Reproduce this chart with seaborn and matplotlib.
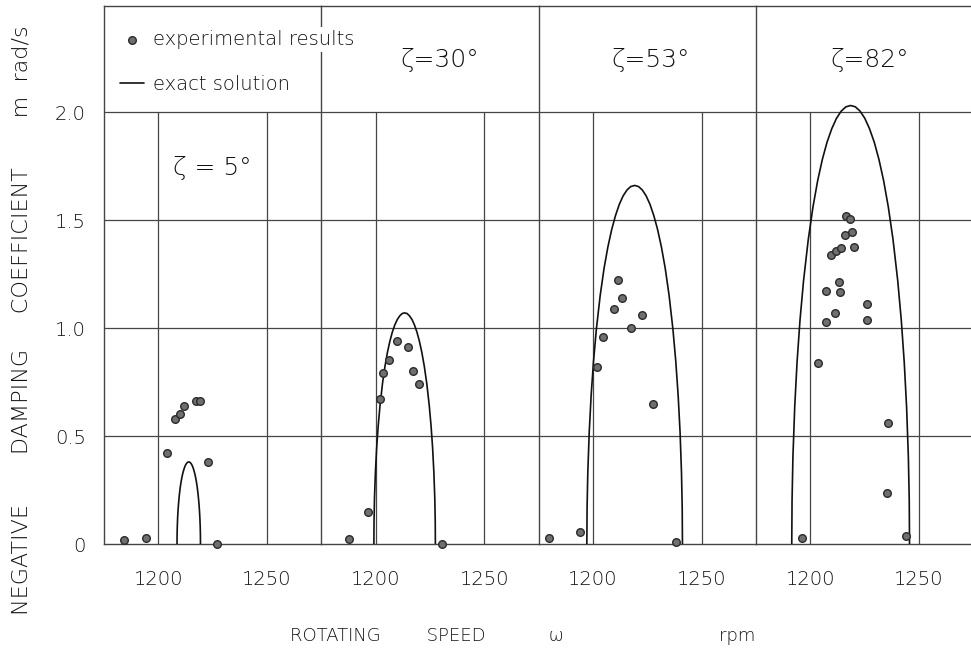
import numpy as np
import pandas as pd
import matplotlib
matplotlib.use("Agg")
import matplotlib.pyplot as plt
import seaborn as sns

# ---------------- data ----------------
zeta_labels = ["ζ = 5°", "ζ=30°", "ζ=53°", "ζ=82°"]
x_ticks = [1200, 1250]
x_ticklabels = ["1200", "1250"]
y_ticks = [0, 0.5, 1.0, 1.5, 2.0]
y_ticklabels = ["0", "0.5", "1.0", "1.5", "2.0"]

# experimental results: rotating speed (rpm), negative damping coefficient (rad/s)
exp5_x = [1184.1, 1194.5, 1204.0, 1207.8, 1210.2, 1211.8, 1217.3, 1219.1, 1222.9, 1226.9]
exp5_y = [0.02, 0.03, 0.42, 0.58, 0.60, 0.64, 0.66, 0.66, 0.38, 0.00]
exp30_x = [1187.9, 1196.5, 1201.8, 1203.2, 1206.0, 1210.0, 1214.7, 1217.1, 1220.0, 1230.7]
exp30_y = [0.025, 0.15, 0.67, 0.79, 0.85, 0.94, 0.91, 0.80, 0.74, 0.0]
exp53_x = [1180.0, 1194.2, 1201.7, 1204.6, 1209.8, 1211.6, 1213.6, 1217.4, 1222.5, 1227.7, 1238.1]
exp53_y = [0.03, 0.056, 0.82, 0.96, 1.09, 1.22, 1.14, 1.00, 1.06, 0.65, 0.01]
exp82_x = [1196.1, 1203.4, 1207.3, 1211.3, 1207.4, 1213.7, 1213.4, 1209.7, 1212.0, 1214.2,
           1220.2, 1215.9, 1219.3, 1216.5, 1218.2, 1226.1, 1226.1, 1235.8, 1235.2, 1244.0]
exp82_y = [0.03, 0.84, 1.03, 1.07, 1.17, 1.165, 1.215, 1.34, 1.355, 1.37,
           1.375, 1.43, 1.445, 1.52, 1.505, 1.11, 1.035, 0.56, 0.235, 0.035]

# exact solution curves
sol5_x = [1208.6, 1208.63, 1208.71, 1208.87, 1209.09, 1209.36, 1209.68, 1210.11, 1210.54,
          1210.98, 1211.41, 1211.84, 1212.27, 1212.7, 1213.14, 1213.57, 1214.0,
          1214.43, 1214.86, 1215.3, 1215.73, 1216.16, 1216.59, 1217.02, 1217.46,
          1217.89, 1218.32, 1218.64, 1218.91, 1219.13, 1219.29, 1219.37, 1219.4]
sol5_y = [0, 0.038, 0.076, 0.119, 0.158, 0.194, 0.228, 0.264, 0.292,
          0.315, 0.333, 0.348, 0.360, 0.369, 0.375, 0.379, 0.380,
          0.379, 0.375, 0.369, 0.360, 0.348, 0.333, 0.315, 0.292,
          0.264, 0.228, 0.194, 0.158, 0.119, 0.076, 0.038, 0]
sol30_x = [1199.2, 1199.27, 1199.48, 1199.91, 1200.47, 1201.18, 1202.03, 1203.16, 1204.29,
           1205.43, 1206.56, 1207.69, 1208.82, 1209.95, 1211.09, 1212.22, 1213.35,
           1214.48, 1215.61, 1216.75, 1217.88, 1219.01, 1220.14, 1221.27, 1222.41,
           1223.54, 1224.67, 1225.52, 1226.23, 1226.79, 1227.22, 1227.43, 1227.5]
sol30_y = [0, 0.107, 0.213, 0.334, 0.444, 0.546, 0.642, 0.743, 0.822,
           0.887, 0.939, 0.981, 1.014, 1.039, 1.056, 1.067, 1.070,
           1.067, 1.056, 1.039, 1.014, 0.981, 0.939, 0.887, 0.822,
           0.743, 0.642, 0.546, 0.444, 0.334, 0.213, 0.107, 0]
sol53_x = [1197.2, 1197.31, 1197.64, 1198.3, 1199.18, 1200.28, 1201.6, 1203.36, 1205.12,
           1206.88, 1208.64, 1210.4, 1212.16, 1213.92, 1215.68, 1217.44, 1219.2,
           1220.96, 1222.72, 1224.48, 1226.24, 1228.0, 1229.76, 1231.52, 1233.28,
           1235.04, 1236.8, 1238.12, 1239.22, 1240.1, 1240.76, 1241.09, 1241.2]
sol53_y = [0, 0.166, 0.330, 0.518, 0.688, 0.847, 0.996, 1.152, 1.276,
           1.375, 1.456, 1.521, 1.573, 1.612, 1.639, 1.655, 1.660,
           1.655, 1.639, 1.612, 1.573, 1.521, 1.456, 1.375, 1.276,
           1.152, 0.996, 0.847, 0.688, 0.518, 0.330, 0.166, 0]
sol82_x = [1191.5, 1191.64, 1192.04, 1192.86, 1193.94, 1195.29, 1196.92, 1199.09, 1201.26,
           1203.42, 1205.59, 1207.76, 1209.93, 1212.1, 1214.26, 1216.43, 1218.6,
           1220.77, 1222.94, 1225.1, 1227.27, 1229.44, 1231.61, 1233.78, 1235.94,
           1238.11, 1240.28, 1241.91, 1243.26, 1244.35, 1245.16, 1245.57, 1245.7]
sol82_y = [0, 0.203, 0.404, 0.634, 0.842, 1.036, 1.218, 1.409, 1.560,
           1.682, 1.781, 1.861, 1.923, 1.971, 2.004, 2.024, 2.030,
           2.024, 2.004, 1.971, 1.923, 1.861, 1.781, 1.682, 1.560,
           1.409, 1.218, 1.036, 0.842, 0.634, 0.404, 0.203, 0]

exp_sets = [(exp5_x, exp5_y), (exp30_x, exp30_y), (exp53_x, exp53_y), (exp82_x, exp82_y)]
sol_sets = [(sol5_x, sol5_y), (sol30_x, sol30_y), (sol53_x, sol53_y), (sol82_x, sol82_y)]

exp_df = pd.concat([pd.DataFrame({"panel": k, "speed": xs, "m": ys})
                    for k, (xs, ys) in enumerate(exp_sets)], ignore_index=True)
sol_df = pd.concat([pd.DataFrame({"panel": k, "speed": xs, "m": ys})
                    for k, (xs, ys) in enumerate(sol_sets)], ignore_index=True)

# ---------------- styling ----------------
sns.set_theme(style="white")
plt.rcParams["font.family"] = ["DejaVu Sans"]
plt.rcParams["font.weight"] = "light"

W, H = 971, 654
fig = plt.figure(figsize=(W / 100, H / 100), dpi=100)
fig.patch.set_facecolor("white")

left0, pw, top_px, bot_px = 104, 217.3, 6, 544
grid_col = "#454545"
txt_col = "#111111"
ymax = (bot_px - top_px) / 216.0

axes = []
for k in range(4):
    ax = fig.add_axes([(left0 + k * pw) / W, 1 - bot_px / H, pw / W, (bot_px - top_px) / H])
    axes.append(ax)
    ax.set_xlim(1175, 1275)
    ax.set_ylim(0, ymax)
    ax.set_facecolor("white")
    # horizontal grid across, vertical grid only up to 2.0
    for yv in y_ticks[1:]:
        ax.axhline(yv, color=grid_col, lw=0.9, zorder=1)
    ax.vlines(x_ticks, 0, y_ticks[-1], color=grid_col, lw=0.9, zorder=1)

    d_sol = sol_df[sol_df.panel == k]
    sns.lineplot(data=d_sol, x="speed", y="m", sort=False, estimator=None, ax=ax,
                 color="#111111", lw=1.2, zorder=3,
                 label="exact solution" if k == 0 else None)
    d_exp = exp_df[exp_df.panel == k]
    sns.scatterplot(data=d_exp, x="speed", y="m", ax=ax, s=30, color="#6f6f6f",
                    edgecolor="#2a2a2a", linewidth=1.0, zorder=4, clip_on=False,
                    label="experimental results" if k == 0 else None)

    ax.set_xticks(x_ticks)
    ax.set_xticklabels(x_ticklabels, fontsize=14, color=txt_col)
    ax.set_yticks(y_ticks)
    if k == 0:
        ax.set_yticklabels(y_ticklabels, fontsize=14, color=txt_col)
    else:
        ax.set_yticklabels([])
    ax.tick_params(axis="both", length=0)
    ax.tick_params(axis="x", pad=19)
    ax.tick_params(axis="y", pad=13)
    ax.set_xlabel("")
    ax.set_ylabel("")
    for side in ["top", "left", "bottom"]:
        ax.spines[side].set_visible(True)
        ax.spines[side].set_color(grid_col)
        ax.spines[side].set_linewidth(1.0)
    ax.spines["right"].set_visible(False)
    if ax.get_legend() is not None:
        ax.get_legend().remove()

# panel labels
axes[0].text(1225, 1.74, zeta_labels[0], fontsize=18, ha="center", va="center", color=txt_col)
title_dx = [0, 0.045, 0.015, 0.025]
for k in range(1, 4):
    axes[k].text(0.5 + title_dx[k], 0.90, zeta_labels[k], transform=axes[k].transAxes,
                 fontsize=18, ha="center", va="center", color=txt_col)

# legend (figure level so that it sits above the panel boundaries)
handles, labels = axes[0].get_legend_handles_labels()
order = [labels.index("experimental results"), labels.index("exact solution")]
leg = fig.legend([handles[i] for i in order], [labels[i] for i in order],
                 loc="upper left", bbox_to_anchor=(120 / W, 1 - 30 / H),
                 frameon=False, fontsize=14, handlelength=1.25, handletextpad=0.45,
                 labelspacing=1.35, borderpad=0, borderaxespad=0)
for t in leg.get_texts():
    t.set_color(txt_col)
leg.get_texts()[0].set_bbox(dict(facecolor="white", edgecolor="none", pad=2))

# axis titles
fig.text(22 / W, 1 - 320 / H,
         "NEGATIVE       DAMPING     COEFFICIENT       m  rad/s",
         rotation=90, ha="center", va="center", fontsize=16, color=txt_col)
fig.text(523 / W, 1 - 636 / H,
         "ROTATING        SPEED           ω                           rpm",
         ha="center", va="center", fontsize=13, color=txt_col)

fig.savefig("out.png", dpi=100, facecolor="white")
